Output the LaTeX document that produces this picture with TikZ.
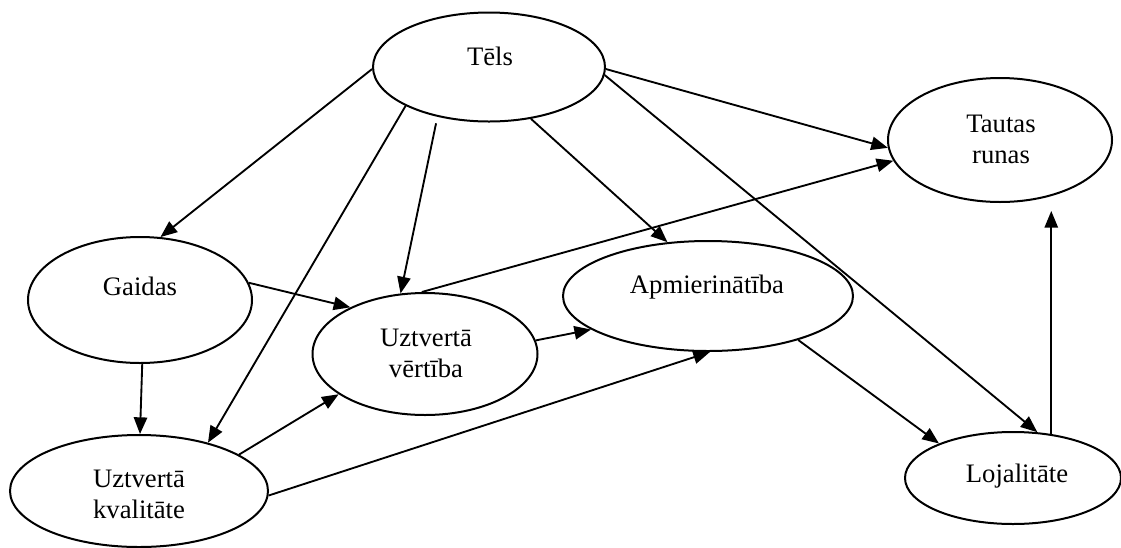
\documentclass[tikz,border=0pt]{standalone}
\usepackage{fontspec}
\setmainfont{Liberation Serif}
\usetikzlibrary{arrows.meta,shapes.geometric}
\begin{document}
\begin{tikzpicture}[x=0.75pt,y=-0.75pt,
  oval/.style={draw, ellipse, line width=1.5pt, inner sep=0pt},
  lbl/.style={font=\fontsize{20pt}{23.8pt}\selectfont, inner sep=0pt, anchor=base},
  link/.style={line width=1.4pt, -{Triangle[length=12.5pt,width=10pt]}}]
\useasboundingbox (0,0) rectangle (1121,547);

% concepts
\node[oval, minimum width=174pt,   minimum height=81.75pt] (tels) at (489,67)  {};
\node[oval, minimum width=168pt,   minimum height=93pt]    (taut) at (1000,140) {};
\node[oval, minimum width=168pt,   minimum height=94.5pt]  (gaid) at (140,300) {};
\node[oval, minimum width=217.5pt, minimum height=82.5pt]  (apm)  at (708,296) {};
\node[oval, minimum width=168.75pt,minimum height=91.5pt]  (vert) at (425,354) {};
\node[oval, minimum width=193.5pt, minimum height=84pt]    (kval) at (139,491) {};
\node[oval, minimum width=162pt,   minimum height=69pt]    (loj)  at (1013,478) {};

% labels
\node[lbl] (telsT) at (490,65)  {Tēls};
\node[lbl] (tautT) at (1001,132) {\begin{tabular}[t]{@{}c@{}}Tautas\\runas\end{tabular}};
\node[lbl] (gaidT) at (140,295) {Gaidas};
\node[lbl] (apmT)  at (707,293) {Apmierinātība};
\node[lbl] (vertT) at (426,346) {\begin{tabular}[t]{@{}c@{}}Uztvertā\\vērtība\end{tabular}};
\node[lbl] (kvalT) at (139,487) {\begin{tabular}[t]{@{}c@{}}Uztvertā\\kvalitāte\end{tabular}};
\node[lbl] (lojT)  at (1017,482) {Lojalitāte};

% influences
\draw[link] (tels.181) -- (gaid.72);
\draw[link] (tels.205) -- (kval.35);
\draw[link, shorten <=5pt] (tels.224) -- (vert.112);
\draw[link] (tels.309) -- (apm.127);
\draw[link] (tels.359) -- (taut.184);
\draw[link] (tels.356) -- (loj.62);
\draw[link] (gaid.9) -- (vert.148);
\draw[link] (gaid.272) -- (kval.89);
\draw[link] (kval.20) -- (vert.205);
\draw[link] (kval.358) -- (apm.272);
\draw[link] (vert.7) -- (apm.196);
\draw[link] (vert.93) -- (taut.191);
\draw[link] (apm.334) -- (loj.155);
\draw[link, shorten >=6pt] (loj.49) -- (loj.49 |- taut.south);
\end{tikzpicture}
\end{document}
